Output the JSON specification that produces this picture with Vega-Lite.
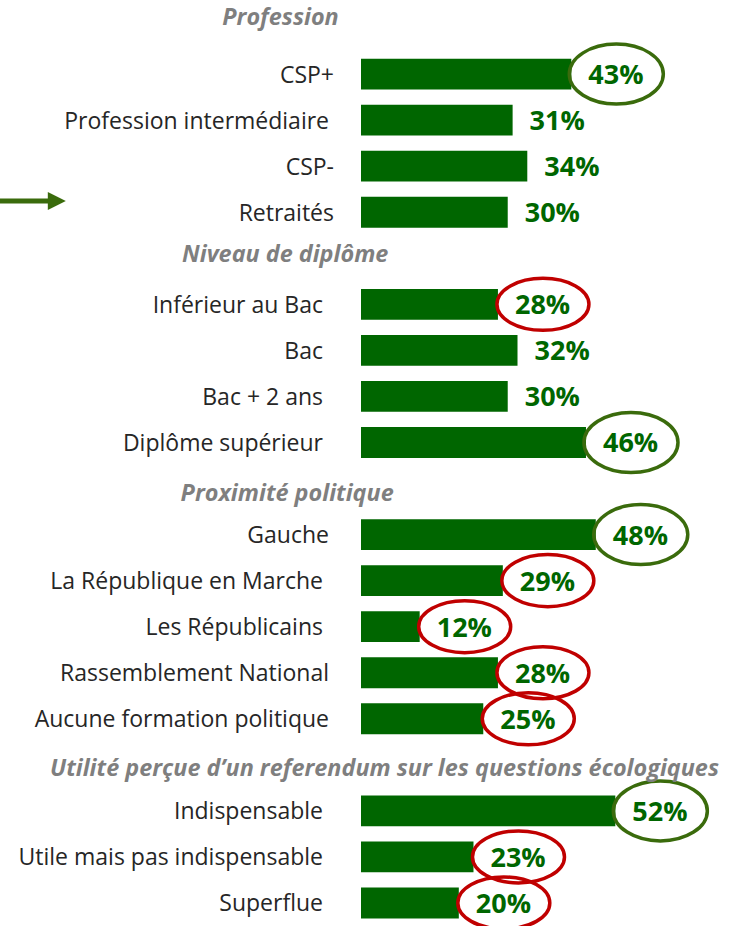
{
  "$schema": "https://vega.github.io/schema/vega-lite/v6.json",
  "autosize": {"type": "none"},
  "padding": {"left": 361, "top": 5, "right": 103, "bottom": 0},
  "width": 269,
  "height": 921,
  "config": {"view": {"stroke": null}, "font": "Open Sans"},
  "data": {
    "values": [
      {"label": "Profession", "type": "header"},
      {"label": "CSP+", "type": "item", "value": 43, "mark": "high"},
      {"label": "Profession intermédiaire", "type": "item", "value": 31},
      {"label": "CSP-", "type": "item", "value": 34},
      {"label": "Retraités", "type": "item", "value": 30},
      {"label": "Niveau de diplôme", "type": "header"},
      {"label": "Inférieur au Bac", "type": "item", "value": 28, "mark": "low"},
      {"label": "Bac", "type": "item", "value": 32},
      {"label": "Bac + 2 ans", "type": "item", "value": 30},
      {"label": "Diplôme supérieur", "type": "item", "value": 46, "mark": "high"},
      {"label": "Proximité politique", "type": "header"},
      {"label": "Gauche", "type": "item", "value": 48, "mark": "high"},
      {"label": "La République en Marche", "type": "item", "value": 29, "mark": "low"},
      {"label": "Les Républicains", "type": "item", "value": 12, "mark": "low"},
      {"label": "Rassemblement National", "type": "item", "value": 28, "mark": "low"},
      {"label": "Aucune formation politique", "type": "item", "value": 25, "mark": "low"},
      {"label": "Utilité perçue d’un referendum sur les questions écologiques", "type": "header"},
      {"label": "Indispensable", "type": "item", "value": 52, "mark": "high"},
      {"label": "Utile mais pas indispensable", "type": "item", "value": 23, "mark": "low"},
      {"label": "Superflue", "type": "item", "value": 20, "mark": "low"}
    ]
  },
  "encoding": {
    "y": {
      "field": "label",
      "type": "nominal",
      "title": null,
      "axis": null,
      "scale": {
        "domain": ["Profession", "CSP+", "Profession intermédiaire", "CSP-", "Retraités", "Niveau de diplôme", "Inférieur au Bac", "Bac", "Bac + 2 ans", "Diplôme supérieur", "Proximité politique", "Gauche", "La République en Marche", "Les Républicains", "Rassemblement National", "Aucune formation politique", "Utilité perçue d’un referendum sur les questions écologiques", "Indispensable", "Utile mais pas indispensable", "Superflue"],
        "paddingInner": 0.33,
        "paddingOuter": 0.165
      }
    }
  },
  "layer": [
    {
      "transform": [{"filter": "datum.type == 'item'"}],
      "mark": {"type": "bar", "color": "#006600"},
      "encoding": {
        "x": {"field": "value", "type": "quantitative", "scale": {"domain": [0, 55], "nice": false}, "axis": null}
      }
    },
    {
      "transform": [{"filter": "isValid(datum.mark)"}],
      "mark": {"type": "point", "filled": false, "strokeWidth": 3.5, "size": 3600, "opacity": 1},
      "encoding": {
        "x": {"field": "value", "type": "quantitative", "scale": {"domain": [0, 55], "nice": false}, "axis": null},
        "shape": {
          "field": "mark",
          "type": "nominal",
          "scale": {
            "domain": ["high", "low"],
            "range": ["M -0.067 0 A 1.567 1 0 1 1 3.067 0 A 1.567 1 0 1 1 -0.067 0 Z", "M -0.033 0 A 1.533 0.867 0 1 1 3.033 0 A 1.533 0.867 0 1 1 -0.033 0 Z"]
          },
          "legend": null
        },
        "stroke": {
          "field": "mark",
          "type": "nominal",
          "scale": {"domain": ["high", "low"], "range": ["#3a6b0c", "#c00000"]},
          "legend": null
        }
      }
    },
    {
      "transform": [{"filter": "datum.type == 'item'"}, {"calculate": "datum.value + '%'", "as": "txt"}],
      "mark": {"type": "text", "align": "left", "baseline": "middle", "dx": 17, "dy": 2, "font": "Open Sans", "fontSize": 27, "fontWeight": "bold", "color": "#006600"},
      "encoding": {
        "x": {"field": "value", "type": "quantitative", "scale": {"domain": [0, 55], "nice": false}, "axis": null},
        "text": {"field": "txt"}
      }
    },
    {
      "transform": [{"filter": "indexof(['CSP+', 'CSP-', 'Retraités'], datum.label) >= 0"}],
      "mark": {"type": "text", "align": "right", "baseline": "middle", "dy": 1.5, "font": "Open Sans", "fontSize": 23, "color": "#262626"},
      "encoding": {
        "x": {"datum": -5.52, "type": "quantitative", "scale": {"domain": [0, 55], "nice": false}, "axis": null},
        "text": {"field": "label"}
      }
    },
    {
      "transform": [{"filter": "indexof(['Profession intermédiaire', 'Gauche', 'Rassemblement National', 'Aucune formation politique'], datum.label) >= 0"}],
      "mark": {"type": "text", "align": "right", "baseline": "middle", "dy": 1.5, "font": "Open Sans", "fontSize": 23, "color": "#262626"},
      "encoding": {
        "x": {"datum": -6.54, "type": "quantitative", "scale": {"domain": [0, 55], "nice": false}, "axis": null},
        "text": {"field": "label"}
      }
    },
    {
      "transform": [{"filter": "datum.type == 'item' && indexof(['CSP+', 'CSP-', 'Retraités', 'Profession intermédiaire', 'Gauche', 'Rassemblement National', 'Aucune formation politique'], datum.label) < 0"}],
      "mark": {"type": "text", "align": "right", "baseline": "middle", "dy": 1.5, "font": "Open Sans", "fontSize": 23, "color": "#262626"},
      "encoding": {
        "x": {"datum": -7.77, "type": "quantitative", "scale": {"domain": [0, 55], "nice": false}, "axis": null},
        "text": {"field": "label"}
      }
    },
    {
      "transform": [{"filter": "datum.label == 'Profession'"}],
      "mark": {"type": "text", "align": "center", "baseline": "middle", "dy": -10, "font": "Open Sans", "fontSize": 23.4, "fontWeight": "bold", "fontStyle": "italic", "color": "#7f7f7f"},
      "encoding": {
        "x": {"datum": -16.46, "type": "quantitative", "scale": {"domain": [0, 55], "nice": false}, "axis": null},
        "text": {"field": "label"}
      }
    },
    {
      "transform": [{"filter": "datum.label == 'Niveau de diplôme'"}],
      "mark": {"type": "text", "align": "center", "baseline": "middle", "dy": -3.5, "font": "Open Sans", "fontSize": 23.4, "fontWeight": "bold", "fontStyle": "italic", "color": "#7f7f7f"},
      "encoding": {
        "x": {"datum": -15.5, "type": "quantitative", "scale": {"domain": [0, 55], "nice": false}, "axis": null},
        "text": {"field": "label"}
      }
    },
    {
      "transform": [{"filter": "datum.label == 'Proximité politique'"}],
      "mark": {"type": "text", "align": "center", "baseline": "middle", "dy": 5.8, "font": "Open Sans", "fontSize": 23.4, "fontWeight": "bold", "fontStyle": "italic", "color": "#7f7f7f"},
      "encoding": {
        "x": {"datum": -15.1, "type": "quantitative", "scale": {"domain": [0, 55], "nice": false}, "axis": null},
        "text": {"field": "label"}
      }
    },
    {
      "transform": [{"filter": "indexof(datum.label, 'Utilité') == 0"}],
      "mark": {"type": "text", "align": "center", "baseline": "middle", "dy": 3.8, "font": "Open Sans", "fontSize": 23.4, "fontWeight": "bold", "fontStyle": "italic", "color": "#7f7f7f"},
      "encoding": {
        "x": {"datum": 4.8, "type": "quantitative", "scale": {"domain": [0, 55], "nice": false}, "axis": null},
        "text": {"field": "label"}
      }
    },
    {
      "data": {"values": [{"label": "Retraités"}]},
      "mark": {"type": "rule", "color": "#3a6b0c", "strokeWidth": 5},
      "encoding": {
        "x": {"datum": -76, "type": "quantitative", "scale": {"domain": [0, 55], "nice": false}, "axis": null},
        "x2": {"datum": -63.6},
        "y": {"field": "label", "type": "nominal", "bandPosition": 0.14}
      }
    },
    {
      "data": {"values": [{"label": "Retraités"}]},
      "mark": {"type": "point", "filled": true, "opacity": 1, "color": "#3a6b0c", "size": 324, "shape": "M -1 -1 L 1 0 L -1 1 Z"},
      "encoding": {
        "x": {"datum": -62.2, "type": "quantitative", "scale": {"domain": [0, 55], "nice": false}, "axis": null},
        "y": {"field": "label", "type": "nominal", "bandPosition": 0.14}
      }
    }
  ]
}
